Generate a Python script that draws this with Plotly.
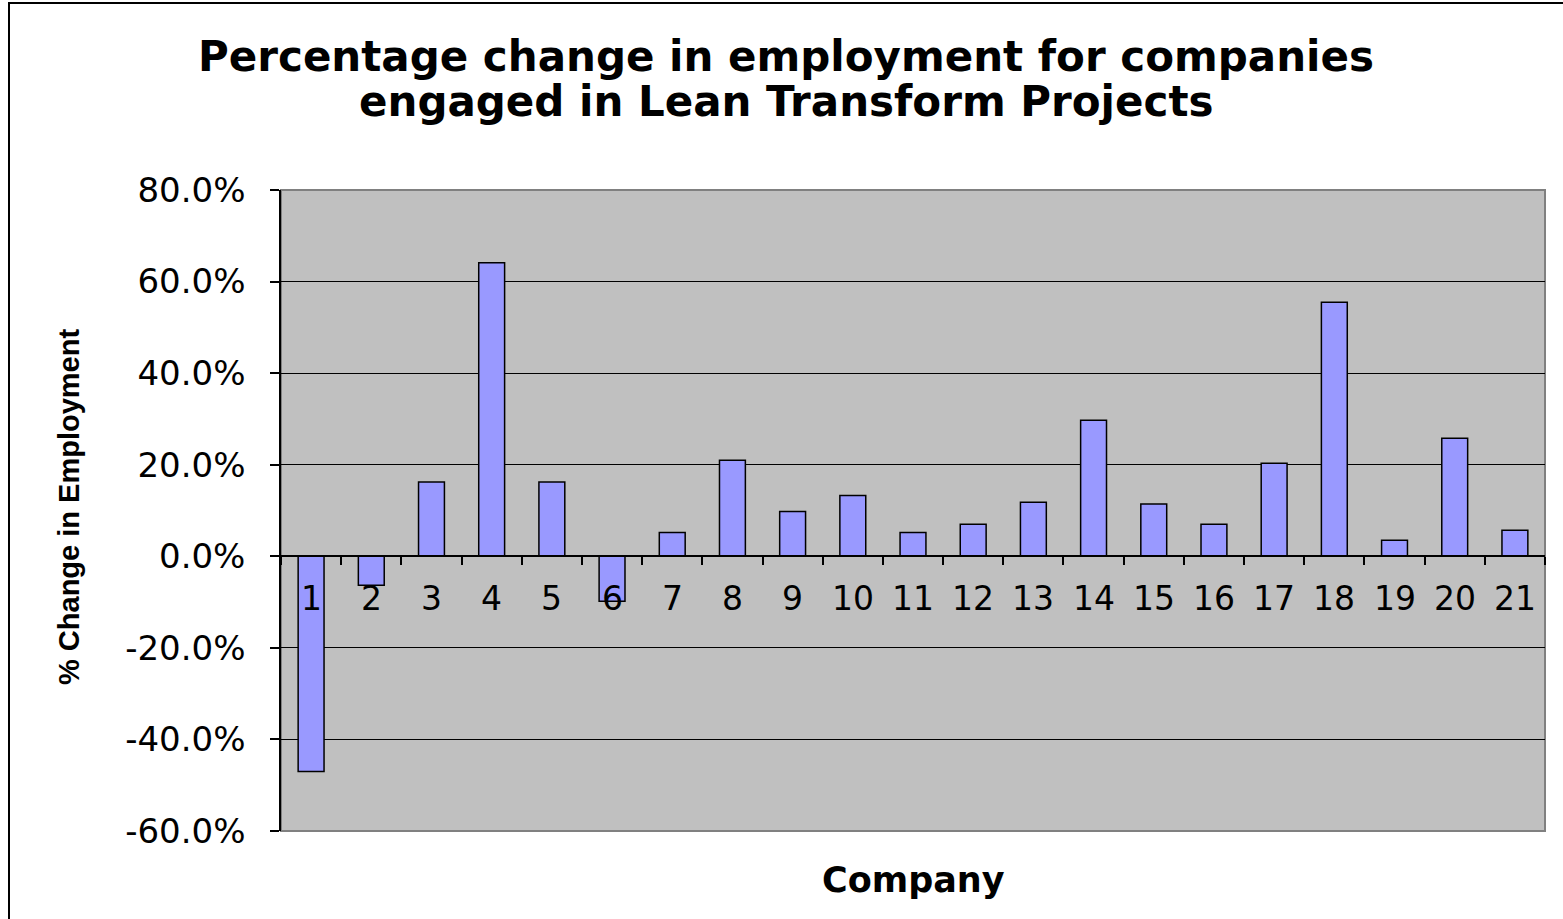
import plotly.graph_objects as go

companies = [str(i) for i in range(1, 22)]
pct_change = [-0.47, -0.063, 0.162, 0.641, 0.162, -0.098, 0.052, 0.21, 0.098, 0.133,
              0.052, 0.07, 0.118, 0.297, 0.114, 0.07, 0.203, 0.555, 0.035, 0.258, 0.057]
y_tickvals = [-0.6, -0.4, -0.2, 0.0, 0.2, 0.4, 0.6, 0.8]
y_ticktext = ["-60.0%", "-40.0%", "-20.0%", "0.0%", "20.0%", "40.0%", "60.0%", "80.0%"]
title_lines = ["Percentage change in employment for companies",
               "engaged in Lean Transform Projects"]

W, H = 1563, 919
L, R, T, B = 281, 1545, 190, 831
pw = R - L
ph = B - T

FONT = "DejaVu Sans, Arial"

fig = go.Figure(go.Bar(
    x=companies, y=pct_change,
    marker=dict(color="#9999FF", line=dict(color="black", width=1.5)),
    width=0.43,
))

title_ann = [
    dict(text=f"<b>{t}</b>", xref="paper", yref="paper",
         x=(786 - L) / pw, y=(B - yc) / ph, showarrow=False,
         xanchor="center", yanchor="middle", font=dict(size=42, family=FONT))
    for t, yc in zip(title_lines, [56, 102])
]

fig.update_layout(
    width=W, height=H,
    margin=dict(l=L, r=W - R, t=T, b=H - B),
    paper_bgcolor="white", plot_bgcolor="#C0C0C0",
    showlegend=False,
    font=dict(family=FONT, color="black"),
    xaxis=dict(
        type="category", anchor="free", position=60 / 140,
        showline=True, linecolor="black", linewidth=1.5,
        ticks="outside", ticklen=8, tickcolor="black", tickwidth=1.5,
        tickson="boundaries", showgrid=False, showticklabels=False,
        range=[-0.5, 20.5],
    ),
    yaxis=dict(
        range=[-0.6, 0.8], tickvals=y_tickvals, ticktext=y_ticktext,
        showline=True, linecolor="black", linewidth=1.5,
        ticks="outside", ticklen=9, tickcolor="black", tickwidth=1.5,
        ticklabelstandoff=18,
        showgrid=True, gridcolor="black", gridwidth=1,
        zeroline=False, tickfont=dict(size=34),
    ),
    shapes=[
        dict(type="rect", xref="paper", yref="paper", x0=0, x1=1, y0=0, y1=1,
             line=dict(color="#808080", width=2), layer="below"),
        dict(type="rect", xref="paper", yref="paper",
             x0=(9 - L) / pw, x1=(W + 10 - L) / pw,
             y0=(B - (H + 10)) / ph, y1=1 + (T - 3) / ph,
             line=dict(color="black", width=2)),
    ],
    annotations=title_ann + [
        dict(text="<b>% Change in Employment</b>", xref="paper", yref="paper",
             x=(69 - L) / pw, y=(B - 507) / ph, textangle=-90, showarrow=False,
             xanchor="center", yanchor="middle",
             font=dict(size=29, family="Liberation Sans Narrow, Arial Narrow, Arial")),
        dict(text="<b>Company</b>", xref="paper", yref="paper",
             x=(913 - L) / pw, y=(B - 880) / ph, showarrow=False,
             xanchor="center", yanchor="middle", font=dict(size=35)),
    ] + [
        dict(text=c, x=i, y=0, xref="x", yref="y", showarrow=False,
             xanchor="center", yanchor="middle", yshift=-42,
             font=dict(size=33))
        for i, c in enumerate(companies)
    ],
)

fig.write_html("out.html", config={"displayModeBar": False},
               post_script="document.body.style.margin='0px';document.body.style.overflow='hidden';")
